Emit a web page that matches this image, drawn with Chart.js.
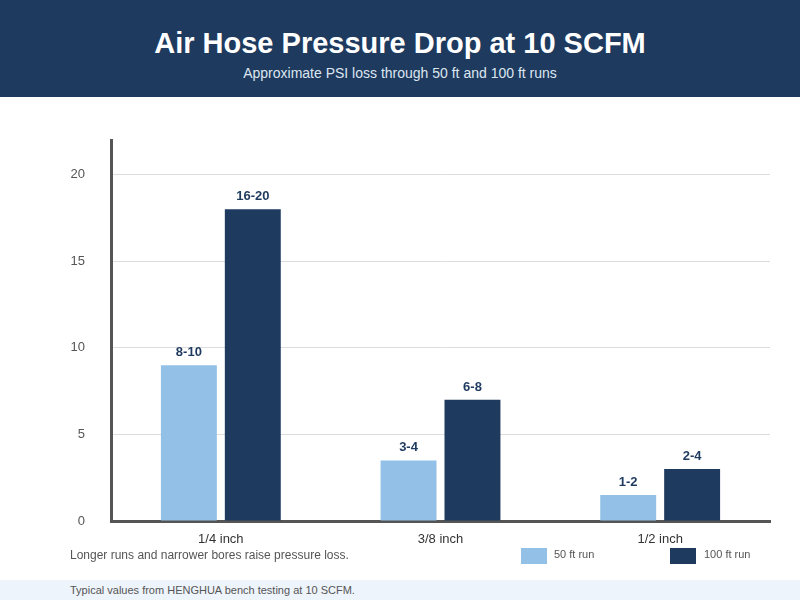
<!DOCTYPE html>
<html><head><meta charset="utf-8">
<script src="https://cdn.jsdelivr.net/npm/chart.js@4"></script>
<style>
body{margin:0;width:800px;height:600px;position:relative;font-family:"Liberation Sans",Arial,sans-serif;background:#fff;overflow:hidden}
#hdr{position:absolute;left:0;top:0;width:800px;height:97px;background:#1e3a5f;color:#fff;text-align:center}
#hdr h1{margin:0;position:absolute;top:27px;width:100%;font-size:29px;font-weight:bold}
#hdr p{margin:0;position:absolute;top:65px;width:100%;font-size:14px;color:#dde6f0}
#wrap{position:absolute;left:0;top:97px;width:800px;height:460px}
.t{position:absolute;font-size:12px;color:#555}
.box{position:absolute;width:26px;height:16px;top:548px}
#ftr{position:absolute;left:0;top:580px;width:800px;height:20px;background:#eef4fb}
</style></head><body>
<div id="hdr"><h1>Air Hose Pressure Drop at 10 SCFM</h1><p>Approximate PSI loss through 50 ft and 100 ft runs</p></div>
<div id="wrap"><canvas id="c"></canvas></div>
<div class="t" style="left:70px;top:548px">Longer runs and narrower bores raise pressure loss.</div>
<div class="box" style="left:521px;background:#93c0e6"></div><div class="t" style="left:554px;top:548px;font-size:11px">50 ft run</div>
<div class="box" style="left:670px;background:#1e3a5f"></div><div class="t" style="left:704px;top:548px;font-size:11px">100 ft run</div>
<div id="ftr"><div class="t" style="left:70px;top:4px;font-size:11px">Typical values from HENGHUA bench testing at 10 SCFM.</div></div>
<script>
const categories=["1/4 inch","3/8 inch","1/2 inch"];
const run50=[9,3.5,1.5];
const run100=[18,7,3];
const labels50=["8-10","3-4","1-2"];
const labels100=["16-20","6-8","2-4"];
const valLabels={
 id:'vl',afterDatasetsDraw(ch){const x=ch.ctx;x.save();x.font='bold 13px "Liberation Sans",Arial';x.fillStyle='#1e3a5f';x.textAlign='center';x.textBaseline='bottom';
 [labels50,labels100].forEach((L,i)=>ch.getDatasetMeta(i).data.forEach((b,j)=>x.fillText(L[j],b.x,b.y-6)));x.restore();}
};
new Chart(document.getElementById('c'),{type:'bar',
data:{labels:categories,datasets:[
{label:'50 ft run',data:run50,backgroundColor:'#93c0e6',barPercentage:0.875,categoryPercentage:0.582},
{label:'100 ft run',data:run100,backgroundColor:'#1e3a5f',barPercentage:0.875,categoryPercentage:0.582}]},
options:{responsive:true,maintainAspectRatio:false,animation:false,
layout:{padding:{top:43,right:30,left:0,bottom:0}},
plugins:{legend:{display:false},tooltip:{enabled:false}},
scales:{
x:{grid:{display:false},border:{color:'#555',width:3},ticks:{color:'#333',font:{size:13}},afterFit(s){s.height=36}},
y:{min:0,max:22,grid:{color:'#ddd',drawTicks:false},border:{color:'#555',width:3},
 ticks:{stepSize:5,color:'#555',font:{size:13},padding:26,callback:v=>v%5===0?v:null},afterFit(s){s.width=111}}}},
plugins:[valLabels]});
</script></body></html>
